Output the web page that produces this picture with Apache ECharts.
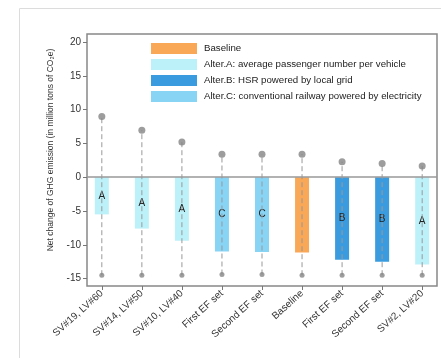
<!DOCTYPE html>
<html>
<head>
<meta charset="utf-8">
<script src="https://cdn.jsdelivr.net/npm/echarts@6/dist/echarts.min.js"></script>
<style>html,body{margin:0;padding:0;background:#fff;}#c{width:441px;height:358px;}</style>
</head>
<body>
<div id="c"></div>
<script>
var categories = ['SV#19, LV#60','SV#14, LV#50','SV#10, LV#40','First EF set','Second EF set','Baseline','First EF set','Second EF set','SV#2, LV#20'];
var groups = ['Alter.A','Alter.A','Alter.A','Alter.C','Alter.C','Baseline','Alter.B','Alter.B','Alter.A'];
var barLabels = ['A','A','A','C','C','','B','B','A'];
var barValues = [-5.5,-7.6,-9.4,-11.0,-11.05,-11.15,-12.2,-12.5,-12.9];
var upperValues = [9.0,6.95,5.2,3.4,3.4,3.4,2.3,2.05,1.65];
var lowerValues = [-14.5,-14.5,-14.5,-14.4,-14.4,-14.5,-14.5,-14.5,-14.5];
var yTicks = [-15,-10,-5,0,5,10,15,20];
var seriesNames = ['Baseline','Alter.A: average passenger number per vehicle','Alter.B: HSR powered by local grid','Alter.C: conventional railway powered by electricity'];
var seriesKeys = ['Baseline','Alter.A','Alter.B','Alter.C'];
var seriesColors = ['#F9A857','#BDF1F9','#3A9BDE','#88D4F5'];

var idx = categories.map(function(_, i){ return i; });
var font = 'Liberation Sans, Arial, sans-serif';

var barSeries = seriesKeys.map(function(key, k){
  var data = [];
  idx.forEach(function(i){ if (groups[i] === key) data.push([i, barValues[i]]); });
  return {
    name: seriesNames[k], type: 'bar', stack: 'all', barWidth: 14,
    itemStyle: {color: seriesColors[k]},
    label: {show: true, position: 'inside', color: '#222', fontSize: 10, fontFamily: font,
      padding: [0,0,3,0],
      formatter: function(p){ return barLabels[p.value[0]]; }},
    data: data, z: 2
  };
});

var chart = echarts.init(document.getElementById('c'));
chart.setOption({
  animation: false,
  textStyle: {fontFamily: font},
  graphic: [{type:'rect', shape:{x:19.5, y:8.5, width:430, height:360}, style:{fill:'none', stroke:'#dcdcdc', lineWidth:1}, z:-10}],
  grid: {left: 87, right: 4, top: 34, bottom: 72, show: true, borderColor: '#888', borderWidth: 1.5, containLabel: false},
  legend: {
    orient: 'vertical', left: 151, top: 43, padding: 0, itemGap: 5,
    itemWidth: 46, itemHeight: 11, icon: 'rect',
    data: seriesNames,
    textStyle: {fontSize: 9.7, color: '#222', fontFamily: font, padding:[0,0,0,2]}
  },
  xAxis: {
    type: 'value', min: -0.37, max: 8.37,
    axisLine: {show: false, onZero: false},
    splitLine: {show: false},
    axisTick: {show: true, length: 4, lineStyle: {color: '#777'}, customValues: idx},
    axisLabel: {customValues: idx, rotate: 42, fontSize: 10, color: '#333', margin: 6,
      formatter: function(v){ return categories[Math.round(v)]; }}
  },
  yAxis: {
    type: 'value', min: -16.1, max: 21.2,
    name: 'Net change of GHG emission (in million tons of CO\u2082e)',
    nameLocation: 'middle', nameGap: 31, nameRotate: 90,
    nameTextStyle: {fontSize: 8.5, color: '#333', padding: [0,0,0,20]},
    axisLine: {show: false, onZero: false},
    splitLine: {show: false},
    axisTick: {show: true, length: 4, lineStyle: {color: '#777'}, customValues: yTicks},
    axisLabel: {customValues: yTicks, fontSize: 10, color: '#333', margin: 6}
  },
  series: barSeries.concat([
    {
      type: 'custom', z: 5,
      data: idx.map(function(i){ return [i, lowerValues[i], upperValues[i]]; }),
      renderItem: function(params, api){
        var p1 = api.coord([api.value(0), api.value(1)]);
        var p2 = api.coord([api.value(0), api.value(2)]);
        return {type:'line', shape:{x1:p1[0], y1:p1[1], x2:p2[0], y2:p2[1]},
          style:{stroke:'#999', lineWidth:1, lineDash:[5,3]}};
      }
    },
    {
      type: 'scatter', symbol: 'circle', symbolSize: 7, z: 6,
      itemStyle: {color: '#858585'},
      data: idx.map(function(i){ return [i, upperValues[i]]; })
    },
    {
      type: 'scatter', symbol: 'circle', symbolSize: 5, z: 6,
      itemStyle: {color: '#858585'},
      data: idx.map(function(i){ return [i, lowerValues[i]]; })
    },
    {
      type: 'line', data: [], silent: true,
      markLine: {silent: true, symbol: 'none', label: {show: false},
        lineStyle: {color: '#999', width: 1.5, type: 'solid'},
        data: [{yAxis: 0}]}
    }
  ])
});
</script>
</body>
</html>
